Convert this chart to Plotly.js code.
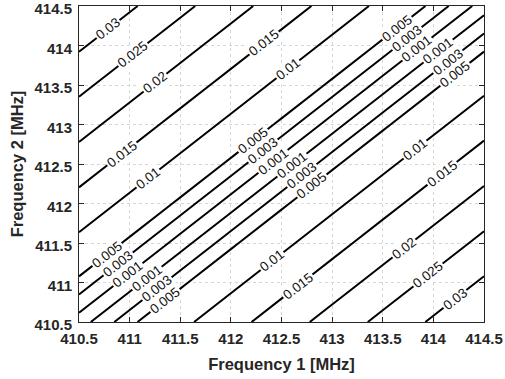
<!DOCTYPE html>
<html>
<head>
<meta charset="utf-8">
<script src="https://cdn.plot.ly/plotly-3.0.1.min.js"></script>
<style>
  html, body { margin: 0; padding: 0; background: #fff; }
  #chart { width: 505px; height: 379px; }
</style>
</head>
<body>
<div id="chart"></div>
<script>
// Frequency grid (MHz) for both carriers
const f1Grid = [410.5, 411, 411.5, 412, 412.5, 413, 413.5, 414, 414.5];
const f2Grid = [410.5, 411, 411.5, 412, 412.5, 413, 413.5, 414, 414.5];

// Field value for a given |f2 - f1| offset, one entry per 0.5 MHz step of offset
const zByOffset = [0, 0.0043, 0.0088, 0.0132, 0.0176, 0.0219, 0.0263, 0.0307, 0.0351];

// Contour levels drawn
const contourLevels = [0.001, 0.003, 0.005, 0.01, 0.015, 0.02, 0.025, 0.03];

// Axis ticks
const tickVals = [410.5, 411, 411.5, 412, 412.5, 413, 413.5, 414, 414.5];
const tickText = ['410.5', '411', '411.5', '412', '412.5', '413', '413.5', '414', '414.5'];

// Inline contour labels: level, side of the diagonal (+1: f2 > f1), and f1 position
const labelLevel = [0.03, 0.025, 0.02, 0.015, 0.01, 0.015, 0.01,
                    0.005, 0.003, 0.001, 0.005, 0.003, 0.001, 0.005, 0.003, 0.001,
                    0.001, 0.003, 0.005, 0.001, 0.003, 0.005, 0.001, 0.003, 0.005,
                    0.01, 0.015, 0.02, 0.025, 0.03, 0.01, 0.015];
const labelSide  = [1, 1, 1, 1, 1, 1, 1,
                    1, 1, 1, 1, 1, 1, 1, 1, 1,
                    -1, -1, -1, -1, -1, -1, -1, -1, -1,
                    -1, -1, -1, -1, -1, -1, -1];
const labelF1    = [410.79, 411.03, 411.25, 410.92, 411.18, 412.33, 412.56,
                    412.22, 412.32, 412.42, 413.64, 413.74, 413.84, 410.78, 410.89, 410.98,
                    412.60, 412.70, 412.80, 414.05, 414.14, 414.21, 411.17, 411.27, 411.35,
                    413.82, 414.09, 413.71, 413.95, 414.21, 412.41, 412.66];

// ---- build the z table from the offset profile ----
// The profile is stored signed (positive where f2 > f1) so the zero diagonal
// has no saddle cells; each level is then traced at +level and -level.
const step = f1Grid[1] - f1Grid[0];
const z = f2Grid.map((_, j) => f1Grid.map((_, i) => Math.sign(j - i) * zByOffset[Math.abs(i - j)]));

// offset |f2 - f1| at which the profile reaches a level (same linear rule the contour uses)
function offsetOf(level) {
  for (let k = 0; k < zByOffset.length - 1; k++) {
    const a = zByOffset[k], b = zByOffset[k + 1];
    if (level >= a && level <= b) return (k + (level - a) / (b - a)) * step;
  }
  return (zByOffset.length - 1) * step;
}

const W = 505, H = 379;
const margin = { l: 79, r: 21, t: 6, b: 57, pad: 0 };
const plotW = W - margin.l - margin.r;
const plotH = H - margin.t - margin.b;
const xSpan = f1Grid[f1Grid.length - 1] - f1Grid[0];
const ySpan = f2Grid[f2Grid.length - 1] - f2Grid[0];
const lineAngle = Math.atan((plotH / ySpan) / (plotW / xSpan)) * 180 / Math.PI;

const traces = contourLevels.map(lv => ({
  type: 'contour',
  x: f1Grid,
  y: f2Grid,
  z: z,
  autocontour: false,
  contours: { start: -lv, end: lv, size: 2 * lv, coloring: 'none', showlabels: false },
  line: { color: '#000000', width: 2, smoothing: 0 },
  showscale: false,
  hoverinfo: 'skip'
}));

const annotations = labelLevel.map((lv, n) => ({
  x: labelF1[n],
  y: labelF1[n] + labelSide[n] * offsetOf(lv),
  xref: 'x', yref: 'y',
  text: String(lv),
  showarrow: false,
  textangle: -lineAngle,
  xanchor: 'center', yanchor: 'middle',
  bgcolor: '#ffffff',
  borderpad: 1,
  font: { family: 'Liberation Sans, Arial, sans-serif', size: 13.5, color: '#111111' }
}));

const axisFont = { family: 'Liberation Sans, Arial, sans-serif', size: 15, color: '#262626', weight: 'bold' };
const titleFont = { family: 'Liberation Sans, Arial, sans-serif', size: 16.5, color: '#262626', weight: 'bold' };

const axisCommon = {
  tickvals: tickVals,
  ticktext: tickText,
  ticks: 'inside',
  ticklen: 5,
  tickwidth: 1,
  tickcolor: '#262626',
  showline: true,
  linecolor: '#262626',
  linewidth: 1,
  mirror: 'ticks',
  showgrid: true,
  gridcolor: '#d6d6d6',
  griddash: 'dot',
  gridwidth: 1,
  zeroline: false,
  tickfont: axisFont,
  ticklabeloverflow: 'allow',
  ticklabelstandoff: 3,
  automargin: false,
  fixedrange: true
};

const layout = {
  width: W,
  height: H,
  margin: margin,
  paper_bgcolor: '#ffffff',
  plot_bgcolor: '#ffffff',
  showlegend: false,
  xaxis: Object.assign({}, axisCommon, {
    range: [f1Grid[0], f1Grid[f1Grid.length - 1]],
    title: { text: 'Frequency 1 [MHz]', font: titleFont, standoff: 12 }
  }),
  yaxis: Object.assign({}, axisCommon, {
    range: [f2Grid[0], f2Grid[f2Grid.length - 1]],
    ticklabelshift: 3,
    title: { text: 'Frequency 2 [MHz]', font: titleFont, standoff: 6 }
  }),
  annotations: annotations
};

Plotly.newPlot('chart', traces, layout, { displayModeBar: false, staticPlot: true });
</script>
</body>
</html>
